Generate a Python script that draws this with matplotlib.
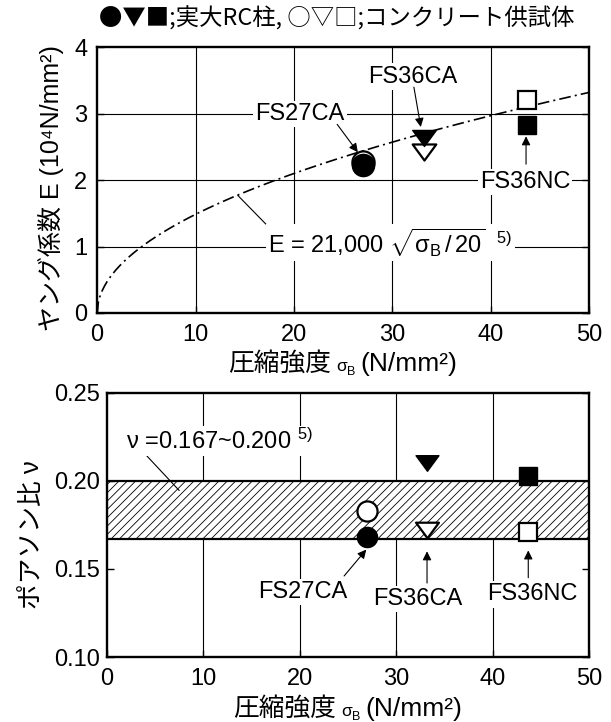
import numpy as np
import matplotlib
matplotlib.use("Agg")
import matplotlib.pyplot as plt
from matplotlib.path import Path

plt.rcParams['font.family'] = ['Liberation Sans', 'Noto Sans CJK JP']
plt.rcParams['mathtext.fontset'] = 'custom'
plt.rcParams['mathtext.rm'] = 'Liberation Sans'
plt.rcParams['mathtext.it'] = 'Liberation Sans'
plt.rcParams['hatch.linewidth'] = 0.6

# data
strength_rc = [27.0, 33.2, 43.7]         # filled: full-scale RC columns
strength_cyl = [27.0, 33.2, 43.7]        # open: concrete cylinders
young_rc = [2.23, 2.64, 2.83]
young_cyl = [2.28, 2.42, 3.21]
poisson_rc = [0.168, 0.210, 0.203]
poisson_cyl = [0.183, 0.172, 0.171]
specimens = ['FS27CA', 'FS36CA', 'FS36NC']
nu_band = (0.167, 0.200)

# flat downward triangle like the original
tri = Path([(-1, 0.68), (1, 0.68), (0, -0.68), (-1, 0.68)],
           [Path.MOVETO, Path.LINETO, Path.LINETO, Path.CLOSEPOLY])
markers = ['o', tri, 's']
msizes_top = [16, 17, 12.5]
msizes_bot = [14.5, 16.5, 12.5]

W, H = 611, 722
fig = plt.figure(figsize=(W / 100, H / 100), dpi=100)
ax1 = fig.add_axes([0.159, 0.5665, 0.805, 0.368])
ax2 = fig.add_axes([0.175, 0.090, 0.789, 0.366])

fig.text(0.551, 0.975, '●▼■;実大RC柱, ○▽□;コンクリート供試体',
         ha='center', va='center', fontsize=16.8, family=['Noto Sans CJK JP'])

txt_box = dict(facecolor='white', edgecolor='none', pad=1.5)
arr = dict(arrowstyle='-|>', color='black', lw=0.8, mutation_scale=13,
           shrinkA=0, shrinkB=0)
FS = 17


def x_label(ax, base_px):
    # "圧縮強度 σB (N/mm²)" built from pieces so the kanji keep their font
    parts = [('圧縮強度', 18.5, 0, 0), ('σ', 12.5, 0, 5), ('B', 9, -3, 0),
             ('(N/mm²)', 19, 0, 5)]
    r = fig.canvas.get_renderer()
    texts, widths = [], []
    for s, fs, dy, gap in parts:
        t = fig.text(0, 0, s, fontsize=fs, ha='left', va='baseline')
        texts.append(t)
        widths.append(t.get_window_extent(r).width)
    box = ax.get_position()
    x = (box.x0 + box.x1) / 2 * W - (sum(widths) + sum(p[3] for p in parts)) / 2
    for t, w, (s, fs, dy, gap) in zip(texts, widths, parts):
        x += gap
        t.set_position((x / W, 1 - (base_px - dy * 100 / 72) / H))
        x += w


def pointer(ax, tail, tip):
    ax.annotate('', xy=tip, xytext=tail, arrowprops=arr)


# ---- top: Young's modulus
xs = np.linspace(0, 50, 400)
ax1.plot(xs, 2.1 * np.sqrt(xs / 20), color='black', lw=1.2,
         linestyle=(0, (7, 2.5, 1.2, 2.5)), zorder=2)
for i, m in enumerate(markers):
    ax1.plot(strength_cyl[i], young_cyl[i], marker=m, ms=msizes_top[i], mfc='white',
             mec='black', mew=1.6, ls='none', zorder=4)
    ax1.plot(strength_rc[i], young_rc[i], marker=m, ms=msizes_top[i], mfc='black',
             mec='black', ls='none', zorder=5)

ax1.text(20.6, 3.0, specimens[0], fontsize=FS, ha='center', va='center',
         bbox=txt_box, zorder=3)
pointer(ax1, (24.4, 2.84), (26.5, 2.42))
ax1.text(32.1, 3.56, specimens[1], fontsize=FS, ha='center', va='center',
         bbox=txt_box, zorder=3)
pointer(ax1, (32.2, 3.40), (32.9, 2.80))
ax1.text(43.5, 1.97, specimens[2], fontsize=FS, ha='center', va='center',
         bbox=txt_box, zorder=3)
pointer(ax1, (43.6, 2.24), (43.6, 2.66))
ax1.annotate(r'E = 21,000 $\sqrt{\sigma_{B}\,/\,20}$  $^{5)}$', xy=(14.3, 1.77),
             xytext=(29.8, 1.06), fontsize=FS, ha='center', va='center', bbox=txt_box,
             arrowprops=dict(arrowstyle='-', color='black', lw=0.8,
                             shrinkA=0, shrinkB=0, relpos=(0.0, 1.0)))

ax1.set_xlim(0, 50)
ax1.set_ylim(0, 4)
ax1.set_xticks([0, 10, 20, 30, 40, 50])
ax1.set_yticks([0, 1, 2, 3, 4])
ax1.set_ylabel('ヤング係数 E (10⁴N/mm²)', fontsize=18)
ax1.yaxis.set_label_coords(-0.068, 0.47)

# ---- bottom: Poisson's ratio
ax2.axhspan(nu_band[0], nu_band[1], facecolor='white', edgecolor='black',
            hatch='////', lw=0, zorder=1)
ax2.axhline(nu_band[0], color='black', lw=1.6, zorder=2)
ax2.axhline(nu_band[1], color='black', lw=1.6, zorder=2)
for i, m in enumerate(markers):
    ax2.plot(strength_cyl[i], poisson_cyl[i], marker=m, ms=msizes_bot[i], mfc='white',
             mec='black', mew=1.6, ls='none', zorder=4)
    ax2.plot(strength_rc[i], poisson_rc[i], marker=m, ms=msizes_bot[i], mfc='black',
             mec='black', ls='none', zorder=5)

ax2.annotate('ν =0.167~0.200 $^{5)}$', xy=(7.5, 0.1945), xytext=(2.0, 0.2225),
             fontsize=FS, ha='left', va='center', bbox=txt_box,
             arrowprops=dict(arrowstyle='-', color='black', lw=0.8,
                             shrinkA=0, shrinkB=0, relpos=(0.1, 0.0)))
ax2.text(20.3, 0.137, specimens[0], fontsize=FS, ha='center', va='center',
         bbox=txt_box, zorder=3)
pointer(ax2, (24.6, 0.1460), (26.9, 0.1610))
ax2.text(32.2, 0.1330, specimens[1], fontsize=FS, ha='center', va='center',
         bbox=txt_box, zorder=3)
pointer(ax2, (33.2, 0.1420), (33.2, 0.1600))
ax2.text(44.1, 0.1355, specimens[2], fontsize=FS, ha='center', va='center',
         bbox=txt_box, zorder=3)
pointer(ax2, (43.7, 0.1450), (43.7, 0.1605))

ax2.set_xlim(0, 50)
ax2.set_ylim(0.10, 0.25)
ax2.set_xticks([0, 10, 20, 30, 40, 50])
ax2.set_yticks([0.10, 0.15, 0.20, 0.25])
ax2.set_yticklabels(['0.10', '0.15', '0.20', '0.25'])
ax2.set_ylabel('ポアソン比 ν', fontsize=18.5)
ax2.yaxis.set_label_coords(-0.131, 0.462)

for ax, ypad in ((ax1, 7), (ax2, 5)):
    for sp in ax.spines.values():
        sp.set_linewidth(1.7)
    ax.tick_params(direction='in', length=5, width=1.0, labelsize=FS,
                   top=False, right=True)
    ax.tick_params(axis='x', pad=8)
    ax.tick_params(axis='y', pad=ypad)
    for x in (10, 20, 30, 40):
        ax.axvline(x, color='black', lw=0.8, zorder=0)
for y in (1, 2, 3):
    ax1.axhline(y, color='black', lw=0.8, zorder=0)

x_label(ax1, 371)
x_label(ax2, 716)

fig.savefig('out.png', dpi=100)
